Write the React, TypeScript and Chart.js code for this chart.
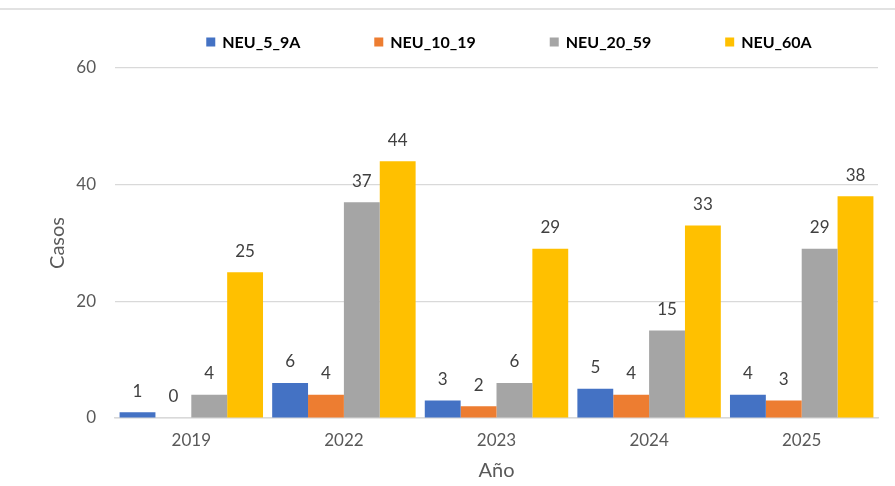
import { useEffect, useRef } from "react";
import { Chart, registerables } from "chart.js";

Chart.register(...registerables);

const categories = ["2019", "2022", "2023", "2024", "2025"];
const seriesNames = ["NEU_5_9A", "NEU_10_19", "NEU_20_59", "NEU_60A"];
const neu5_9A = [1, 6, 3, 5, 4];
const neu10_19 = [0, 4, 2, 4, 3];
const neu20_59 = [4, 37, 6, 15, 29];
const neu60A = [25, 44, 29, 33, 38];
const seriesColors = ["#4472C4", "#ED7D31", "#A5A5A5", "#FFC000"];
const yMin = 0;
const yMax = 60;
const yStep = 20;
const xTitle = "Año";
const yTitle = "Casos";

const FONT = "Lato, 'Open Sans', sans-serif";

const valueLabels = {
  id: "valueLabels",
  afterDatasetsDraw(chart: any) {
    const ctx = chart.ctx;
    ctx.save();
    ctx.font = `17px ${FONT}`;
    ctx.fillStyle = "#404040";
    ctx.textAlign = "center";
    ctx.textBaseline = "middle";
    chart.data.datasets.forEach((ds: any, i: number) => {
      const meta = chart.getDatasetMeta(i);
      meta.data.forEach((bar: any, j: number) => {
        ctx.fillText(String(ds.data[j]), bar.x, bar.y - 21);
      });
    });
    ctx.restore();
  },
};

const customLegend = {
  id: "customLegend",
  afterDraw(chart: any) {
    const ctx = chart.ctx;
    ctx.save();
    // top frame line
    ctx.strokeStyle = "#D9D9D9";
    ctx.lineWidth = 1.5;
    ctx.beginPath();
    ctx.moveTo(0, 9);
    ctx.lineTo(chart.width, 9);
    ctx.stroke();

    ctx.font = `bold 16px ${FONT}`;
    const box = 9;
    const boxGap = 7;
    const itemGap = 74;
    const widths = chart.data.datasets.map(
      (ds: any) => box + boxGap + ctx.measureText(ds.label).width
    );
    const total =
      widths.reduce((a: number, b: number) => a + b, 0) +
      itemGap * (widths.length - 1);
    let x = 509 - total / 2;
    const y = 42;
    ctx.textBaseline = "middle";
    ctx.textAlign = "left";
    chart.data.datasets.forEach((ds: any, i: number) => {
      ctx.fillStyle = ds.backgroundColor;
      ctx.fillRect(x, y - box / 2, box, box);
      ctx.fillStyle = "#000000";
      ctx.fillText(ds.label, x + box + boxGap, y + 1);
      x += widths[i] + itemGap;
    });
    ctx.restore();
  },
};

export default function App() {
  const ref = useRef<HTMLCanvasElement | null>(null);

  useEffect(() => {
    if (!ref.current) return;
    const seriesData = [neu5_9A, neu10_19, neu20_59, neu60A];
    const chart = new Chart(ref.current, {
      type: "bar",
      data: {
        labels: categories,
        datasets: seriesNames.map((name, i) => ({
          label: name,
          data: seriesData[i],
          backgroundColor: seriesColors[i],
          borderWidth: 0,
          barPercentage: 1,
          categoryPercentage: 0.94,
        })),
      },
      options: {
        animation: false,
        responsive: false,
        maintainAspectRatio: false,
        devicePixelRatio: 1,
        layout: { padding: { top: 68, right: 17, left: 0, bottom: 0 } },
        plugins: {
          legend: { display: false },
          tooltip: { enabled: false },
        },
        scales: {
          x: {
            afterFit: (scale: any) => {
              scale.height = 68;
            },
            grid: { display: false, drawTicks: false },
            border: { display: true, color: "#D9D9D9", width: 1.5 },
            ticks: {
              color: "#595959",
              font: { family: FONT, size: 17 },
              padding: 12,
            },
            title: {
              display: true,
              text: xTitle,
              color: "#595959",
              font: { family: FONT, size: 20 },
              padding: { top: 0, bottom: 3 },
            },
          },
          y: {
            min: yMin,
            max: yMax,
            afterFit: (scale: any) => {
              scale.width = 115;
            },
            ticks: {
              stepSize: yStep,
              color: "#595959",
              font: { family: FONT, size: 17 },
              padding: 19,
            },
            grid: { color: "#D9D9D9", lineWidth: 1.2, drawTicks: false },
            border: { display: false },
            title: {
              display: true,
              text: yTitle,
              color: "#595959",
              font: { family: FONT, size: 20 },
              padding: { top: 46, bottom: 0 },
            },
          },
        },
      },
      plugins: [valueLabels, customLegend],
    });
    return () => chart.destroy();
  }, []);

  return (
    <div style={{ position: "absolute", left: 0, top: 0, width: 895, height: 486, background: "#ffffff" }}>
      <canvas ref={ref} width={895} height={486} style={{ display: "block", width: 895, height: 486 }} />
    </div>
  );
}
